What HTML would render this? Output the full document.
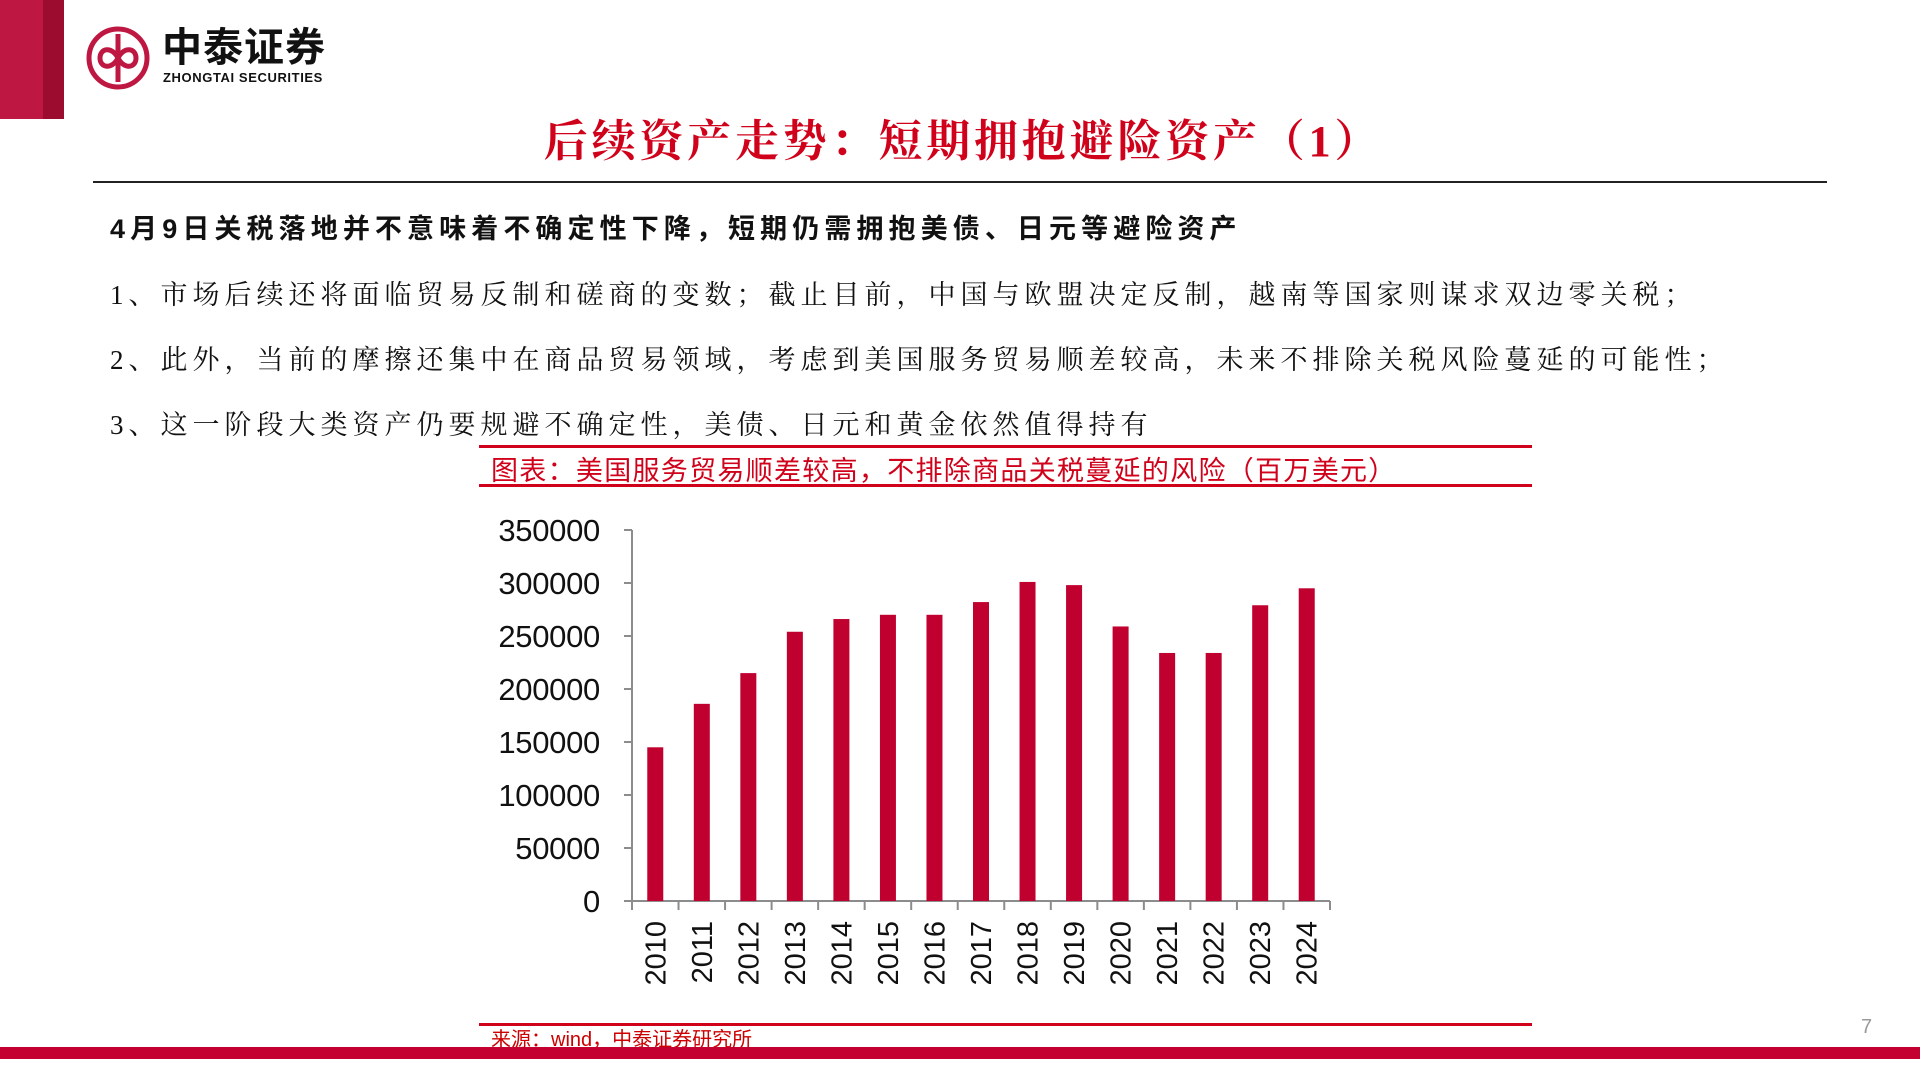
<!DOCTYPE html>
<html><head><meta charset="utf-8">
<style>
html,body{margin:0;padding:0;background:#fff;}
body{width:1920px;height:1080px;position:relative;overflow:hidden;font-family:"Liberation Sans","Noto Sans CJK SC",sans-serif;}
.abs{position:absolute;}
.serif{font-family:"Liberation Serif","Noto Serif CJK SC",serif;}
</style></head>
<body>
<div class="abs" style="left:0;top:0;width:43px;height:119px;background:#be1742;"></div>
<div class="abs" style="left:43px;top:0;width:21px;height:119px;background:#9c0c2e;"></div>
<svg class="abs" style="left:86px;top:26px" width="64" height="64" viewBox="0 0 64 64">
<circle cx="32" cy="32" r="29" fill="none" stroke="#be1742" stroke-width="5"/>
<path d="M32 8 L32 56" stroke="#be1742" stroke-width="5"/>
<path d="M32 32 C26 20 14 22 14 32 C14 42 26 44 32 32 C38 20 50 22 50 32 C50 42 38 44 32 32" fill="none" stroke="#be1742" stroke-width="5"/>
</svg>
<div class="abs" style="left:162px;top:26px;font-size:40px;font-weight:bold;color:#111;letter-spacing:1px;line-height:44px;">中泰证券</div>
<div class="abs" style="left:163px;top:70px;font-size:13px;font-weight:bold;color:#111;letter-spacing:0.6px;">ZHONGTAI SECURITIES</div>

<div class="abs serif" style="left:14px;width:1898px;top:105px;text-align:center;font-size:44px;font-weight:bold;color:#d0021b;letter-spacing:3.8px;">后续资产走势：短期拥抱避险资产（1）</div>
<div class="abs" style="left:93px;top:181px;width:1734px;height:2px;background:#222;"></div>

<div class="abs" style="left:110px;top:207px;font-size:27px;font-weight:bold;color:#111;letter-spacing:5.1px;white-space:nowrap;">4月9日关税落地并不意味着不确定性下降，短期仍需拥抱美债、日元等避险资产</div>
<div class="abs serif" style="left:110px;top:273px;font-size:27px;color:#111;letter-spacing:5px;white-space:nowrap;">1、市场后续还将面临贸易反制和磋商的变数；截止目前，中国与欧盟决定反制，越南等国家则谋求双边零关税；</div>
<div class="abs serif" style="left:110px;top:338px;font-size:27px;color:#111;letter-spacing:5px;white-space:nowrap;">2、此外，当前的摩擦还集中在商品贸易领域，考虑到美国服务贸易顺差较高，未来不排除关税风险蔓延的可能性；</div>
<div class="abs serif" style="left:110px;top:403px;font-size:27px;color:#111;letter-spacing:5px;white-space:nowrap;">3、这一阶段大类资产仍要规避不确定性，美债、日元和黄金依然值得持有</div>

<div class="abs" style="left:479px;top:445px;width:1053px;height:3px;background:#d0021b;"></div>
<div class="abs" style="left:491px;top:449px;font-size:27px;color:#d0021b;white-space:nowrap;letter-spacing:1.3px;">图表：美国服务贸易顺差较高，不排除商品关税蔓延的风险（百万美元）</div>
<div class="abs" style="left:479px;top:484px;width:1053px;height:3px;background:#d0021b;"></div>

<svg id="chart" class="abs" style="left:0;top:0" width="1920" height="1080"></svg>

<div class="abs" style="left:479px;top:1023px;width:1053px;height:3px;background:#d0021b;"></div>
<div class="abs" style="left:491px;top:1023px;font-size:20px;color:#c00;white-space:nowrap;">来源：wind，中泰证券研究所</div>
<div class="abs" style="left:1861px;top:1016px;font-size:20px;color:#999;">7</div>
<div class="abs" style="left:0;top:1047px;width:1920px;height:12px;background:#c3002f;"></div>

<script>
const categories=["2010","2011","2012","2013","2014","2015","2016","2017","2018","2019","2020","2021","2022","2023","2024"];
const values=[145000,186000,215000,254000,266000,270000,270000,282000,301000,298000,259000,234000,234000,279000,295000];
const yTicks=[0,50000,100000,150000,200000,250000,300000,350000];
const yTickLabels=["0","50000","100000","150000","200000","250000","300000","350000"];

const NS="http://www.w3.org/2000/svg";
const svg=document.getElementById('chart');
const x0=632,x1=1330,yBase=901,yTop=530,yMax=350000;
const band=(x1-x0)/categories.length;
function xScale(i){return x0+band*(i+0.5);}
function yScale(v){return yBase-(v/yMax)*(yBase-yTop);}
function mk(tag,attrs){const e=document.createElementNS(NS,tag);for(const k in attrs)e.setAttribute(k,attrs[k]);svg.appendChild(e);return e;}

const yAxis=mk('line',{x1:x0,y1:yTop,x2:x0,y2:yBase,stroke:'#8c8c8c','stroke-width':2});


const xAxis=mk('line',{x1:x0,y1:yBase,x2:x1,y2:yBase,stroke:'#8c8c8c','stroke-width':2});



yTicks.forEach((t,i)=>{
  const y=yScale(t);
  const tk=mk('line',{x1:x0-8,y1:y,x2:x0,y2:y,stroke:'#8c8c8c','stroke-width':2});
  
  
  const tx=mk('text',{x:600,y:y+11,'text-anchor':'end','font-size':31,fill:'#111','font-family':'Liberation Sans, sans-serif','letter-spacing':'-0.3'});
  tx.textContent=yTickLabels[i];
  
  
});
for(let i=0;i<=categories.length;i++){
  const x=x0+band*i;
  const tk=mk('line',{x1:x,y1:yBase,x2:x,y2:yBase+9,stroke:'#8c8c8c','stroke-width':2});
  
  
}
categories.forEach((c,i)=>{
  const cx=xScale(i);
  const y=yScale(values[i]);
  const r=mk('rect',{x:cx-8,y:y,width:16,height:yBase-y,fill:'#c0002f'});
  
  
  const tx=mk('text',{x:0,y:0,'text-anchor':'end','font-size':29,fill:'#111','font-family':'Liberation Sans, sans-serif',transform:`translate(${cx+10},921) rotate(-90)`});
  tx.textContent=c;
  
  
});
</script>
</body></html>
